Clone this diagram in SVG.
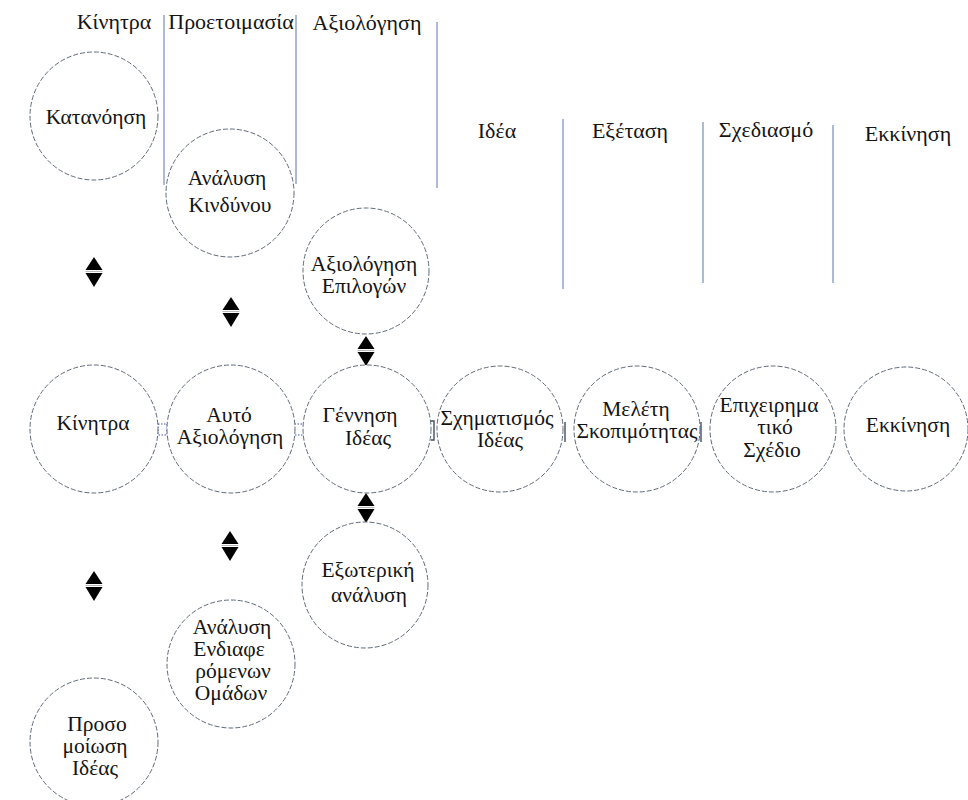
<svg xmlns="http://www.w3.org/2000/svg" xmlns:xlink="http://www.w3.org/1999/xlink" width="968" height="800" viewBox="0 0 968 800">
<style>
.bg{fill:#ffffff}
.c{fill:#ffffff;stroke:#5f6b7a;stroke-width:1;stroke-dasharray:5 2}
.t{font-family:"Liberation Serif","DejaVu Serif","Times New Roman",serif;font-size:21.5px;fill:#141414;text-anchor:middle}
.h{font-family:"Liberation Serif","DejaVu Serif","Times New Roman",serif;font-size:22px;fill:#141414;text-anchor:middle}
.sep{stroke:#97a9cb;stroke-width:1.6}
.lnk{fill:none;stroke:#3a4fc8;stroke-width:1;stroke-dasharray:1.5 1.5}
.lnk2{fill:none;stroke:#444d66;stroke-width:1.4}
</style>
<defs>
<g id="dbl">
<polygon points="0,0 8.5,13 -8.5,13" fill="#000"/>
<line x1="-8.5" y1="14.5" x2="8.5" y2="14.5" stroke="#b8b8b8" stroke-width="1"/>
<polygon points="-8.5,16 8.5,16 0,30" fill="#000"/>
</g>
</defs>
<rect class="bg" x="0" y="0" width="968" height="800"/>

<g id="headers">
<text class="h" x="114" y="29">Κίνητρα</text>
<text class="h" x="231" y="29">Προετοιμασία</text>
<text class="h" x="367" y="30">Αξιολόγηση</text>
<text class="h" x="497" y="138">Ιδέα</text>
<text class="h" x="630" y="138">Εξέταση</text>
<text class="h" x="766" y="137">Σχεδιασμό</text>
<text class="h" x="908" y="141">Εκκίνηση</text>
</g>

<g id="separators">
<line class="sep" x1="164" y1="15" x2="164" y2="185"/>
<line class="sep" x1="296" y1="15" x2="296" y2="184"/>
<line class="sep" x1="437" y1="22" x2="437" y2="188"/>
<line class="sep" x1="563" y1="119" x2="563" y2="289"/>
<line class="sep" x1="703" y1="122" x2="703" y2="283"/>
<line class="sep" x1="833" y1="125" x2="833" y2="283"/>
</g>

<g id="connectors">
<rect class="lnk" x="158" y="424" width="9" height="11"/>
<rect class="lnk" x="294.5" y="424" width="9" height="11"/>
<path class="lnk2" d="M431,421 L434,421 L434,440 L431,440"/>
<line class="lnk2" x1="565" y1="422" x2="565" y2="442"/>
<line class="lnk2" x1="701" y1="422" x2="701" y2="442"/>
<use xlink:href="#dbl" href="#dbl" x="94" y="257"/>
<use xlink:href="#dbl" href="#dbl" x="231" y="297"/>
<use xlink:href="#dbl" href="#dbl" x="366" y="336"/>
<use xlink:href="#dbl" href="#dbl" x="366" y="493"/>
<use xlink:href="#dbl" href="#dbl" x="230" y="531"/>
<use xlink:href="#dbl" href="#dbl" x="94" y="571"/>
</g>

<g id="n-katanoisi">
<circle class="c" cx="94" cy="116" r="64"/>
<text class="t" x="96" y="124">Κατανόηση</text>
</g>
<g id="n-analysi-kindynou">
<circle class="c" cx="230" cy="193" r="64"/>
<text class="t" x="227" y="185">Ανάλυση</text>
<text class="t" x="230" y="212">Κινδύνου</text>
</g>
<g id="n-axiologisi-epilogon">
<circle class="c" cx="366" cy="271" r="63"/>
<text class="t" x="364" y="271">Αξιολόγηση</text>
<text class="t" x="364" y="293">Επιλογών</text>
</g>
<g id="n-kinitra">
<circle class="c" cx="94" cy="429" r="64"/>
<text class="t" x="93" y="430">Κίνητρα</text>
</g>
<g id="n-afto-axiologisi">
<circle class="c" cx="231" cy="429" r="64"/>
<text class="t" x="229" y="422">Αυτό</text>
<text class="t" x="230" y="444">Αξιολόγηση</text>
</g>
<g id="n-gennisi-ideas">
<circle class="c" cx="367" cy="429" r="64"/>
<text class="t" x="360" y="422">Γέννηση</text>
<text class="t" x="368" y="445">Ιδέας</text>
</g>
<g id="n-schimatismos">
<circle class="c" cx="500" cy="429" r="63"/>
<text class="t" x="497" y="425">Σχηματισμός</text>
<text class="t" x="500" y="447">Ιδέας</text>
</g>
<g id="n-meleti">
<circle class="c" cx="637" cy="429" r="63"/>
<text class="t" x="636" y="416">Μελέτη</text>
<text class="t" x="637" y="438">Σκοπιμότητας</text>
</g>
<g id="n-epicheirimatiko">
<circle class="c" cx="773" cy="429" r="63"/>
<text class="t" x="769" y="412">Επιχειρημα</text>
<text class="t" x="775" y="434">τικό</text>
<text class="t" x="772" y="457">Σχέδιο</text>
</g>
<g id="n-ekkinisi">
<circle class="c" cx="906" cy="429" r="62"/>
<text class="t" x="908" y="432">Εκκίνηση</text>
</g>
<g id="n-exoteriki">
<circle class="c" cx="365" cy="585" r="63"/>
<text class="t" x="368" y="577">Εξωτερική</text>
<text class="t" x="369" y="602">ανάλυση</text>
</g>
<g id="n-endiaferomenon">
<circle class="c" cx="231" cy="664" r="64"/>
<text class="t" x="232" y="634">Ανάλυση</text>
<text class="t" x="229" y="656">Ενδιαφε</text>
<text class="t" x="233" y="678">ρόμενων</text>
<text class="t" x="231" y="700">Ομάδων</text>
</g>
<g id="n-prosomoiosi">
<circle class="c" cx="94" cy="742" r="64"/>
<text class="t" x="97" y="731">Προσο</text>
<text class="t" x="95" y="753">μοίωση</text>
<text class="t" x="95" y="775">Ιδέας</text>
</g>
</svg>
